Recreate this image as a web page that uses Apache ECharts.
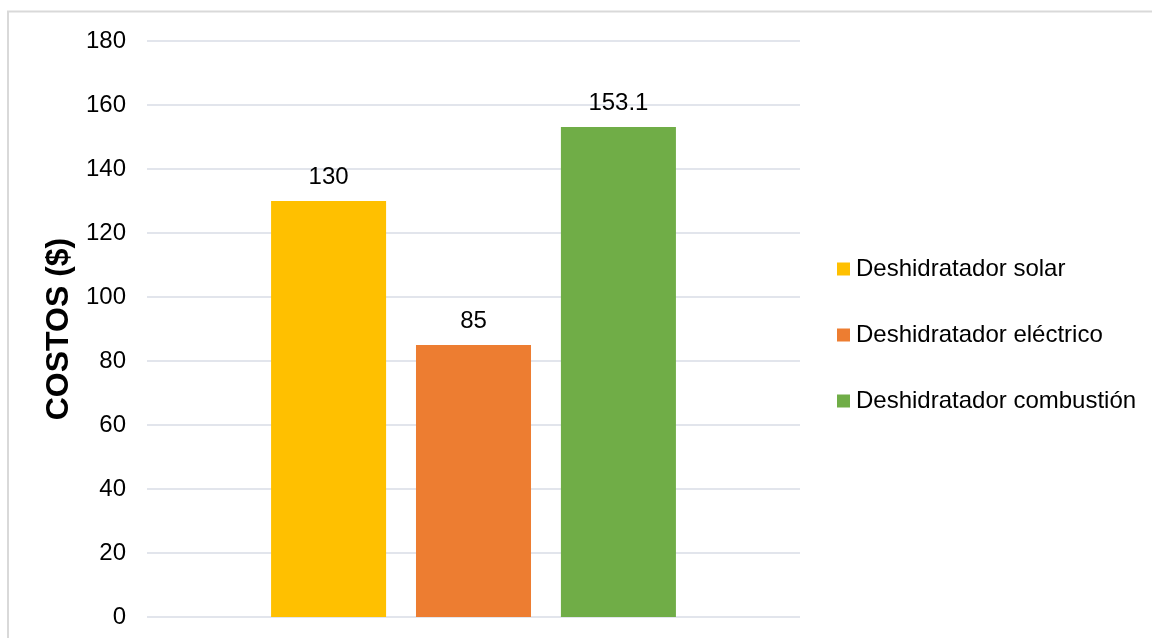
<!DOCTYPE html>
<html>
<head>
<meta charset="utf-8">
<script src="https://cdn.jsdelivr.net/npm/echarts@6/dist/echarts.min.js"></script>
<style>
html,body{margin:0;padding:0;background:#fff;}
#c{width:1152px;height:638px;}
</style>
</head>
<body>
<div id="c"></div>
<script>
const categories = ['Costos'];
const seriesNames = ['Deshidratador solar', 'Deshidratador eléctrico', 'Deshidratador combustión'];
const solarValues = [130];
const electricValues = [85];
const combustionValues = [153.1];
const seriesColors = ['#FFC000', '#ED7D31', '#70AD47'];
const yAxisName = 'COSTOS ($)';

const valuesList = [solarValues, electricValues, combustionValues];
const font = 'Liberation Sans, Arial, sans-serif';

const chart = echarts.init(document.getElementById('c'), null, {renderer: 'canvas'});
chart.setOption({
  animation: false,
  backgroundColor: '#fff',
  graphic: [{
    type: 'rect',
    shape: {x: 8, y: 11.5, width: 1300, height: 800},
    style: {fill: 'none', stroke: '#d9d9d9', lineWidth: 2},
    silent: true,
    z: -10
  }],
  grid: {left: 147, right: 352, top: 41, bottom: 21, containLabel: false},
  legend: {
    orient: 'vertical',
    left: 832,
    top: 252,
    itemWidth: 13,
    itemHeight: 13,
    itemGap: 42,
    icon: 'rect',
    textStyle: {fontFamily: font, fontSize: 24, color: '#000', lineHeight: 24, padding: [0, 0, 0, 1]},
    data: seriesNames
  },
  xAxis: {
    type: 'category',
    data: categories,
    axisLine: {show: false},
    axisTick: {show: false},
    axisLabel: {show: false}
  },
  yAxis: {
    type: 'value',
    min: 0,
    max: 180,
    interval: 20,
    name: yAxisName,
    nameLocation: 'middle',
    nameGap: 65,
    nameTextStyle: {fontFamily: font, fontSize: 32, fontWeight: 'bold', color: '#000'},
    axisLine: {show: false},
    axisTick: {show: false},
    axisLabel: {fontFamily: font, fontSize: 24, color: '#000', margin: 21},
    splitLine: {lineStyle: {color: '#d9dce6', width: 1.5}}
  },
  series: seriesNames.map((n, i) => ({
    name: n,
    type: 'bar',
    data: valuesList[i],
    barGap: '26%',
    barCategoryGap: '38%',
    itemStyle: {color: seriesColors[i]},
    label: {
      show: true,
      position: 'top',
      distance: 12,
      fontFamily: font,
      fontSize: 24,
      color: '#000'
    }
  }))
});
</script>
</body>
</html>
